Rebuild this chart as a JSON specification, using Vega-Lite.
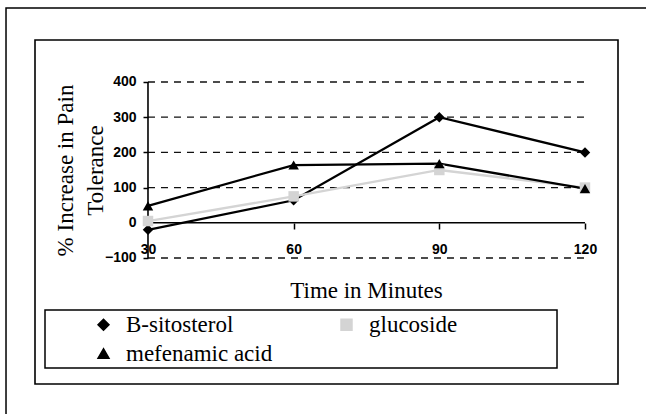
{
  "$schema": "https://vega.github.io/schema/vega-lite/v6.json",
  "width": 583,
  "height": 344,
  "autosize": {"type": "none"},
  "padding": {"left": 35, "top": 40, "right": 28, "bottom": 30},
  "background": "white",
  "config": {
    "view": {"stroke": "black", "strokeWidth": 1.6},
    "legend": {"labelFont": "Liberation Serif", "labelFontSize": 23, "labelColor": "black"}
  },
  "resolve": {"axis": {"x": "independent", "y": "independent"}},
  "datasets": {
    "series": [
      {"time": 30, "value": -20, "series": "B-sitosterol"},
      {"time": 60, "value": 64, "series": "B-sitosterol"},
      {"time": 90, "value": 300, "series": "B-sitosterol"},
      {"time": 120, "value": 200, "series": "B-sitosterol"},
      {"time": 30, "value": 5, "series": "glucoside"},
      {"time": 60, "value": 75, "series": "glucoside"},
      {"time": 90, "value": 150, "series": "glucoside"},
      {"time": 120, "value": 100, "series": "glucoside"},
      {"time": 30, "value": 48, "series": "mefenamic acid"},
      {"time": 60, "value": 164, "series": "mefenamic acid"},
      {"time": 90, "value": 168, "series": "mefenamic acid"},
      {"time": 120, "value": 97, "series": "mefenamic acid"}
    ],
    "grid": [{"level": -100}, {"level": 100}, {"level": 200}, {"level": 300}, {"level": 400}]
  },
  "layer": [
    {
      "data": {"values": [{}]},
      "mark": {"type": "rect", "fill": null, "stroke": "black", "strokeWidth": 1.5, "clip": false},
      "encoding": {
        "x": {"datum": 0.76, "type": "quantitative", "scale": {"domain": [6.73, 126.8], "nice": false, "zero": false}, "axis": null},
        "x2": {"datum": 200},
        "y": {"datum": 610.2, "type": "quantitative", "scale": {"domain": [-458, 519.3], "nice": false, "zero": false}, "axis": null},
        "y2": {"datum": -1500}
      }
    },
    {
      "data": {"values": [{}]},
      "mark": {"type": "rect", "fill": null, "stroke": "black", "strokeWidth": 1.5, "clip": false},
      "encoding": {
        "x": {"datum": 8.79, "type": "quantitative", "scale": {"domain": [6.73, 126.8], "nice": false, "zero": false}, "axis": null},
        "x2": {"datum": 114.24},
        "y": {"datum": -247.7, "type": "quantitative", "scale": {"domain": [-458, 519.3], "nice": false, "zero": false}, "axis": null},
        "y2": {"datum": -412.5}
      }
    },
    {
      "data": {"name": "grid"},
      "mark": {"type": "rule", "stroke": "#111111", "strokeWidth": 1.3, "strokeDash": [7, 6]},
      "encoding": {
        "x": {"datum": 30, "type": "quantitative", "scale": {"domain": [6.73, 126.8], "nice": false, "zero": false}, "axis": null},
        "x2": {"datum": 120},
        "y": {"field": "level", "type": "quantitative", "scale": {"domain": [-458, 519.3], "nice": false, "zero": false}, "axis": null}
      }
    },
    {
      "data": {"values": [{}]},
      "mark": {"type": "rule", "stroke": "black", "strokeWidth": 1.6},
      "encoding": {
        "x": {"datum": 30, "type": "quantitative", "scale": {"domain": [6.73, 126.8], "nice": false, "zero": false}, "axis": null},
        "y": {"datum": -100, "type": "quantitative", "scale": {"domain": [-458, 519.3], "nice": false, "zero": false}, "axis": null},
        "y2": {"datum": 400}
      }
    },
    {
      "data": {"values": [{}]},
      "mark": {"type": "rule", "stroke": "black", "strokeWidth": 1.6},
      "encoding": {
        "x": {"datum": 30, "type": "quantitative", "scale": {"domain": [6.73, 126.8], "nice": false, "zero": false}, "axis": null},
        "x2": {"datum": 120},
        "y": {"datum": 0, "type": "quantitative", "scale": {"domain": [-458, 519.3], "nice": false, "zero": false}, "axis": null}
      }
    },
    {
      "data": {"name": "series"},
      "mark": {"type": "line", "strokeWidth": 2.3, "point": {"filled": true, "size": 110, "opacity": 1}},
      "encoding": {
        "x": {
          "field": "time", "type": "quantitative",
          "scale": {"domain": [6.73, 126.8], "nice": false, "zero": false},
          "axis": {
            "values": [30, 60, 90, 120], "offset": -161, "domain": false, "grid": false,
            "tickColor": "black", "tickSize": 6, "tickWidth": 1.5,
            "labelFont": "Liberation Sans", "labelFontSize": 14, "labelFontWeight": "bold", "labelColor": "black", "labelPadding": 13,
            "title": "Time in Minutes", "titleFont": "Liberation Serif", "titleFontSize": 23, "titleFontWeight": "normal", "titleColor": "black",
            "titleX": 331, "titleY": 67, "titleBaseline": "middle", "titleAlign": "center"
          }
        },
        "y": {
          "field": "value", "type": "quantitative",
          "scale": {"domain": [-458, 519.3], "nice": false, "zero": false},
          "axis": {
            "values": [-100, 0, 100, 200, 300, 400], "offset": -113, "domain": false, "grid": false,
            "tickColor": "black", "tickSize": 5, "tickWidth": 1.5,
            "labelFont": "Liberation Sans", "labelFontSize": 14, "labelFontWeight": "bold", "labelColor": "black", "labelPadding": 7,
            "title": ["% Increase in Pain", "Tolerance"], "titleFont": "Liberation Serif", "titleFontSize": 23, "titleFontWeight": "normal", "titleColor": "black",
            "titleLineHeight": 30, "titleAngle": -90, "titleX": -83, "titleY": 130, "titleAlign": "center", "titleBaseline": "middle"
          }
        },
        "color": {
          "field": "series", "type": "nominal",
          "scale": {"domain": ["B-sitosterol", "glucoside", "mefenamic acid"], "range": ["#000000", "#d4d4d4", "#000000"]},
          "legend": {
            "orient": "none", "legendX": 57, "legendY": 273, "columns": 2, "direction": "horizontal", "title": null,
            "symbolSize": 120, "symbolOpacity": 1, "symbolStrokeWidth": 1.5,
            "labelFont": "Liberation Serif", "labelFontSize": 23, "labelColor": "black", "labelOffset": 11, "labelLimit": 300,
            "rowPadding": 5, "columnPadding": 62, "padding": 0
          }
        },
        "shape": {
          "field": "series", "type": "nominal",
          "scale": {"domain": ["B-sitosterol", "glucoside", "mefenamic acid"], "range": ["diamond", "square", "triangle-up"]},
          "legend": {
            "orient": "none", "legendX": 57, "legendY": 273, "columns": 2, "direction": "horizontal", "title": null,
            "symbolSize": 120, "symbolOpacity": 1, "symbolStrokeWidth": 1.5,
            "labelFont": "Liberation Serif", "labelFontSize": 23, "labelColor": "black", "labelOffset": 11, "labelLimit": 300,
            "rowPadding": 5, "columnPadding": 62, "padding": 0
          }
        }
      }
    }
  ]
}
